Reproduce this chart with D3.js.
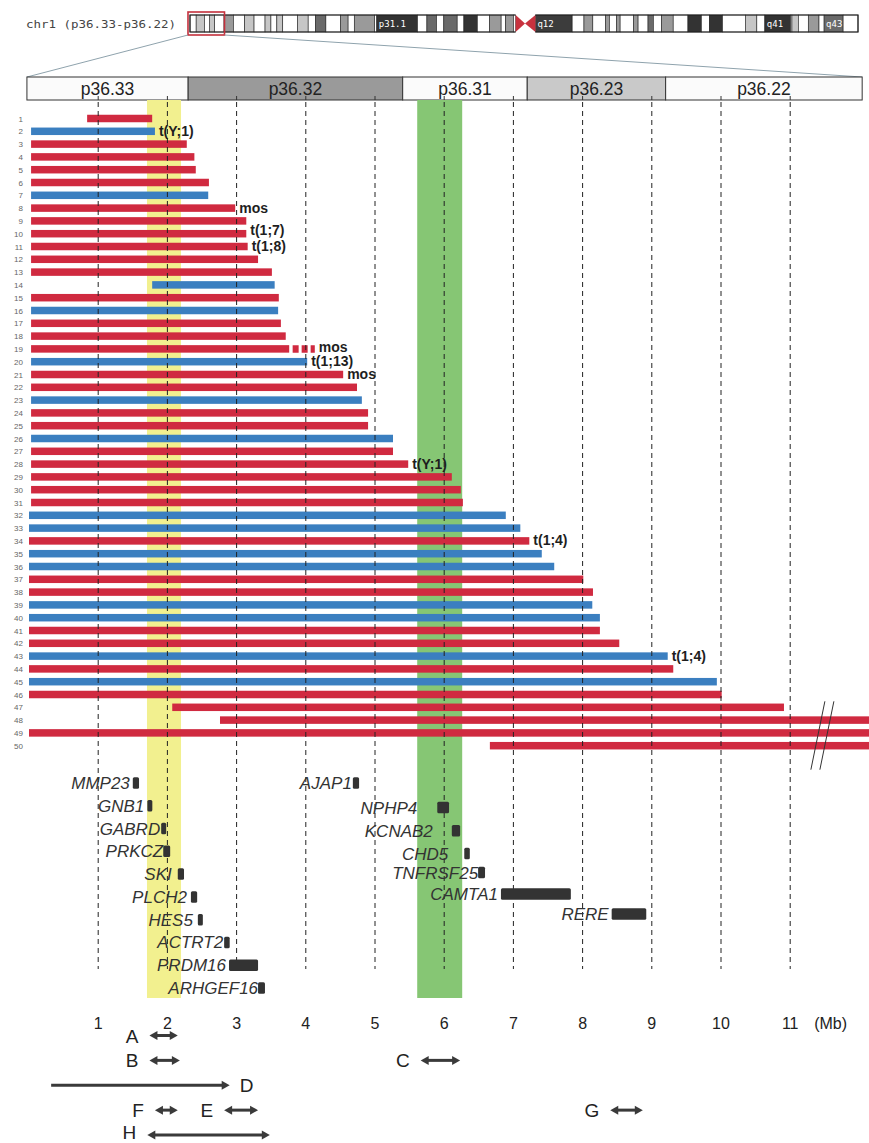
<!DOCTYPE html>
<html>
<head>
<meta charset="utf-8">
<script src="https://cdn.jsdelivr.net/npm/d3@7/dist/d3.min.js"></script>
<style>
  body { margin: 0; background: #fff; }
  svg { display: block; }
</style>
</head>
<body>
<svg id="chart" width="869" height="1143"></svg>
<script>
// ---- chromosome 1 ideogram (Mb, stain) ----
const ideoBands = [
  ["p36.33",0,2.3,"gneg"],["p36.32",2.3,5.4,"gpos25"],["p36.31",5.4,7.2,"gneg"],["p36.23",7.2,9.2,"gpos25"],
  ["p36.22",9.2,12.7,"gneg"],["p36.21",12.7,16.2,"gpos50"],["p36.13",16.2,20.4,"gneg"],["p36.12",20.4,23.9,"gpos25"],
  ["p36.11",23.9,28.0,"gneg"],["p35.3",28.0,30.2,"gpos25"],["p35.2",30.2,32.4,"gneg"],["p35.1",32.4,34.6,"gpos25"],
  ["p34.3",34.6,40.1,"gneg"],["p34.2",40.1,44.1,"gpos25"],["p34.1",44.1,46.8,"gneg"],["p33",46.8,50.7,"gpos75"],
  ["p32.3",50.7,56.1,"gneg"],["p32.2",56.1,59.0,"gpos50"],["p32.1",59.0,61.3,"gneg"],["p31.3",61.3,68.9,"gpos50"],
  ["p31.2",68.9,69.7,"gneg"],["p31.1",69.7,84.9,"gpos100"],["p22.3",84.9,88.4,"gneg"],["p22.2",88.4,92.0,"gpos75"],
  ["p22.1",92.0,94.7,"gneg"],["p21.3",94.7,99.7,"gpos75"],["p21.2",99.7,102.2,"gneg"],["p21.1",102.2,107.2,"gpos100"],
  ["p13.3",107.2,111.8,"gneg"],["p13.2",111.8,116.1,"gpos50"],["p13.1",116.1,117.8,"gneg"],["p12",117.8,120.7,"gpos50"],
  ["p11.2",120.7,121.5,"gneg"],["p11.1",121.5,125.0,"acen"],["q11",125.0,128.9,"acen"],["q12",128.9,142.6,"gvar"],
  ["q21.1",142.6,147.0,"gneg"],["q21.2",147.0,150.3,"gpos50"],["q21.3",150.3,155.0,"gneg"],["q22",155.0,156.5,"gpos50"],
  ["q23.1",156.5,159.1,"gneg"],["q23.2",159.1,160.5,"gpos50"],["q23.3",160.5,165.5,"gneg"],["q24.1",165.5,167.2,"gpos50"],
  ["q24.2",167.2,170.9,"gneg"],["q24.3",170.9,172.9,"gpos75"],["q25.1",172.9,176.0,"gneg"],["q25.2",176.0,180.3,"gpos50"],
  ["q25.3",180.3,185.8,"gneg"],["q31.1",185.8,190.8,"gpos100"],["q31.2",190.8,193.8,"gneg"],["q31.3",193.8,198.7,"gpos100"],
  ["q32.1",198.7,207.2,"gneg"],["q32.2",207.2,211.5,"gpos25"],["q32.3",211.5,214.5,"gneg"],["q41",214.5,224.1,"gpos100"],
  ["q42.11",224.1,224.6,"gneg"],["q42.12",224.6,227.0,"gpos25"],["q42.13",227.0,230.7,"gneg"],["q42.2",230.7,234.7,"gpos50"],
  ["q42.3",234.7,236.6,"gneg"],["q43",236.6,243.7,"gpos75"],["q44",243.7,249.25,"gneg"]
];
const ideoLabelled = ["p31.1","q12","q41","q43"];
const chrLength = 249.25;
const regionTitle = "chr1 (p36.33-p36.22)";
const regionSpan = [0, 12.5];

// ---- zoomed sub-bands (Mb) ----
const subBandNames  = ["p36.33","p36.32","p36.31","p36.23","p36.22"];
const subBandStarts = [0, 2.3, 5.4, 7.2, 9.2];
const subBandEnds   = [2.3, 5.4, 7.2, 9.2, 12.7];
const subBandStains = ["gneg","gpos50","gneg","gpos25","gneg"];
const viewRange = [-0.03, 12.04];

// ---- shaded intervals (Mb) ----
const shadeStarts = [1.705, 5.61];
const shadeEnds   = [2.197, 6.26];
const shadeColors = ["#f2f08f", "#86c674"];

// ---- deletions, one per patient (Mb) ----
const rowIds = d3.range(1, 51);
const rowStart = [
  0.84,0.03,0.03,0.03,0.03,0.03,0.03,0.03,0.03,0.03,
  0.03,0.03,0.03,1.78,0.03,0.03,0.03,0.03,0.03,0.03,
  0.03,0.03,0.03,0.03,0.03,0.03,0.03,0.03,0.03,0.03,
  0.03,0.0,0.0,0.0,0.0,0.0,0.0,0.0,0.0,0.0,
  0.0,0.0,0.0,0.0,0.0,0.0,2.07,2.76,0.0,6.66
];
const rowEnd = [
  1.78,1.82,2.28,2.39,2.41,2.60,2.59,2.98,3.14,3.14,
  3.16,3.31,3.51,3.55,3.61,3.60,3.64,3.71,3.76,4.02,
  4.54,4.74,4.81,4.90,4.90,5.26,5.26,5.48,6.11,6.24,
  6.27,6.89,7.10,7.23,7.41,7.59,8.01,8.15,8.14,8.25,
  8.25,8.53,9.23,9.31,9.94,10.01,10.91,12.6,12.6,12.6
];
// 0 = red series, 1 = blue series
const rowGroup = [
  0,1,0,0,0,0,1,0,0,0,
  0,0,0,1,0,1,0,0,0,1,
  0,0,1,0,0,1,0,0,0,0,
  0,1,1,0,1,1,0,0,1,1,
  0,0,1,0,1,0,0,0,0,0
];
const noteRows  = [2, 8, 10, 11, 19, 20, 21, 28, 34, 43];
const noteTexts = ["t(Y;1)","mos","t(1;7)","t(1;8)","mos","t(1;13)","mos","t(Y;1)","t(1;4)","t(1;4)"];
// partial (mosaic) extension drawn dotted
const mosaicRow = 19, mosaicFrom = 3.81, mosaicTo = 4.13;
const breakAt = 11.4;

// ---- genes (Mb) ----
const geneNames  = ["MMP23","GNB1","GABRD","PRKCZ","SKI","PLCH2","HES5","ACTRT2","PRDM16","ARHGEF16",
                    "AJAP1","NPHP4","KCNAB2","CHD5","TNFRSF25","CAMTA1","RERE"];
const geneStarts = [1.50,1.71,1.91,1.94,2.15,2.34,2.44,2.82,2.89,3.31, 4.68,5.90,6.11,6.29,6.49,6.82,8.42];
const geneEnds   = [1.59,1.78,1.98,2.04,2.24,2.43,2.50,2.90,3.31,3.41, 4.77,6.07,6.23,6.37,6.59,7.83,8.92];
const geneLanes  = [0,1,2,3,4,5,6,7,8,9, 0,1.08,2.1,3.1,3.93,4.87,5.75];

// ---- axis ticks ----
const tickValues = [1,2,3,4,5,6,7,8,9,10,11];
const axisUnit = "(Mb)";

// ---- critical regions (Mb) ----
const regionNames  = ["A","B","C","D","E","F","G","H"];
const regionStarts = [1.74,1.74,5.66,0.32,2.82,1.82,8.40,1.71];
const regionEnds   = [2.15,2.18,6.23,2.90,3.31,2.15,8.87,3.48];
const regionLanes  = [0,1,1,2,3,3,3,4];
const regionOpen   = [false,false,false,true,false,false,false,false]; // open-ended to the left

// ================= drawing =================
const svg = d3.select("#chart");
const FONT = "'Liberation Sans', Arial, sans-serif";

const x = d3.scaleLinear().domain([0, 12]).range([29, 859.4]);
const yRow = d3.scalePoint().domain(rowIds).range([118.5, 745.7]);
const yGene = d3.scaleLinear().domain([0, 9]).range([783, 988]);
const yReg = d3.scaleLinear().domain([0, 4]).range([1035.5, 1135]);
const ideoX = d3.scaleLinear().domain([0, chrLength]).range([190, 858]);
const stainFill = d3.scaleOrdinal()
  .domain(["gneg","gpos25","gpos50","gpos75","gpos100","gvar","acen"])
  .range(["#ffffff","#c6c6c6","#9a9a9a","#6a6a6a","#333333","#3c3c3c","#c8323e"]);
const groupColor = d3.scaleOrdinal().domain([0,1]).range(["#d02a40","#3b7fc0"]);

// label spacing (px) between a gene label and its box; crowded ones are pushed left
const labelGap = {NPHP4: 20, KCNAB2: 19, CHD5: 16, TNFRSF25: 0, AJAP1: 1, GABRD: 1, PRKCZ: 0,
                  SKI: 6, PLCH2: 4, HES5: 5, ACTRT2: 1, ARHGEF16: 0};
// vertical nudge (px) for annotations that sit on adjacent rows
const noteLift = {10: -3.5, 19: -1.5};

// ---- ideogram ----
const iy = 15, ih = 17;
svg.append("text").attr("x", 26).attr("y", iy + 12.5)
  .attr("font-family", "'DejaVu Sans Mono', monospace").attr("font-size", 10.5)
  .attr("fill", "#444").attr("textLength", 150).attr("lengthAdjust", "spacingAndGlyphs")
  .text(regionTitle);

const ideo = svg.append("g");
const bandRows = ideoBands.map(b => ({name: b[0], s: b[1], e: b[2], stain: b[3]}));
ideo.selectAll("rect.band").data(bandRows.filter(d => d.stain !== "acen")).join("rect")
  .attr("x", d => ideoX(d.s)).attr("y", iy)
  .attr("width", d => ideoX(d.e) - ideoX(d.s)).attr("height", ih)
  .attr("fill", d => stainFill(d.stain))
  .attr("stroke", "#222").attr("stroke-width", 0.6);
// centromere
const pAcen = bandRows.find(d => d.name === "p11.1"), qAcen = bandRows.find(d => d.name === "q11");
const cx = ideoX(pAcen.e);
ideo.append("path")
  .attr("d", `M${ideoX(pAcen.s)},${iy}L${cx},${iy + ih/2}L${ideoX(pAcen.s)},${iy + ih}Z`)
  .attr("fill", stainFill("acen"));
ideo.append("path")
  .attr("d", `M${ideoX(qAcen.e)},${iy}L${cx},${iy + ih/2}L${ideoX(qAcen.e)},${iy + ih}Z`)
  .attr("fill", stainFill("acen"));
// arm outlines
ideo.append("path").attr("fill", "none").attr("stroke", "#222").attr("stroke-width", 1.2)
  .attr("d", `M${ideoX(pAcen.s)},${iy}L${ideoX(0)},${iy}L${ideoX(0)},${iy+ih}L${ideoX(pAcen.s)},${iy+ih}`);
ideo.append("path").attr("fill", "none").attr("stroke", "#222").attr("stroke-width", 1.2)
  .attr("d", `M${ideoX(qAcen.e)},${iy}L${ideoX(chrLength)},${iy}L${ideoX(chrLength)},${iy+ih}L${ideoX(qAcen.e)},${iy+ih}`);
ideo.selectAll("text.bl").data(bandRows.filter(d => ideoLabelled.includes(d.name))).join("text")
  .attr("x", d => ideoX(d.s) + 2).attr("y", iy + ih/2 + 3.5)
  .attr("font-family", "'DejaVu Sans Mono', monospace").attr("font-size", 9)
  .attr("fill", "#fff").text(d => d.name);

// selection box and projection lines
const bx0 = ideoX(regionSpan[0]) - 2, bx1 = ideoX(regionSpan[1]) + 1;
svg.append("rect").attr("x", bx0).attr("y", iy - 3).attr("width", bx1 - bx0).attr("height", ih + 6)
  .attr("fill", "none").attr("stroke", "#c4303c").attr("stroke-width", 1.6);
const hy = 77, hh = 23;
svg.append("line").attr("x1", bx0).attr("y1", iy + ih + 3).attr("x2", x(viewRange[0])).attr("y2", hy)
  .attr("stroke", "#8fa3ad").attr("stroke-width", 1);
svg.append("line").attr("x1", bx1).attr("y1", iy + ih + 3).attr("x2", x(viewRange[1])).attr("y2", hy)
  .attr("stroke", "#8fa3ad").attr("stroke-width", 1);

// ---- zoomed band header ----
const subBands = subBandNames.map((n, i) => ({
  name: n,
  s: Math.max(subBandStarts[i] === 0 ? viewRange[0] : subBandStarts[i], viewRange[0]),
  e: Math.min(subBandEnds[i], viewRange[1]),
  stain: subBandStains[i]
}));
const hdrFill = d3.scaleOrdinal().domain(["gneg","gpos25","gpos50"]).range(["#fbfbfb","#c9c9c9","#9a9a9a"]);
const hdr = svg.append("g");
hdr.selectAll("rect").data(subBands).join("rect")
  .attr("x", d => x(d.s)).attr("y", hy).attr("width", d => x(d.e) - x(d.s)).attr("height", hh)
  .attr("fill", d => hdrFill(d.stain)).attr("stroke", "#333").attr("stroke-width", 1);
hdr.selectAll("text").data(subBands).join("text")
  .attr("x", d => (x(d.s) + x(d.e)) / 2).attr("y", hy + 17.5)
  .attr("text-anchor", "middle").attr("font-family", FONT).attr("font-size", 17.5)
  .attr("fill", "#222").text(d => d.name);
hdr.selectAll("line").data(tickValues).join("line")
  .attr("x1", d => x(d)).attr("x2", d => x(d)).attr("y1", hy + hh - 4).attr("y2", hy + hh)
  .attr("stroke", "#333");

// ---- shaded regions ----
const shadeTop = hy + hh, shadeBottom = 998;
svg.append("g").selectAll("rect").data(shadeStarts.map((s, i) => ({s, e: shadeEnds[i], c: shadeColors[i]})))
  .join("rect")
  .attr("x", d => x(d.s)).attr("width", d => x(d.e) - x(d.s))
  .attr("y", shadeTop).attr("height", shadeBottom - shadeTop)
  .attr("fill", d => d.c);

// ---- deletion bars ----
const rows = rowIds.map((id, i) => ({id, s: rowStart[i], e: rowEnd[i], g: rowGroup[i]}));
const barH = 7.5;
svg.append("g").selectAll("rect").data(rows).join("rect")
  .attr("x", d => x(d.s)).attr("width", d => x(d.e) - x(d.s))
  .attr("y", d => yRow(d.id) - barH / 2).attr("height", barH)
  .attr("fill", d => groupColor(d.g));
svg.append("line")
  .attr("x1", x(mosaicFrom)).attr("x2", x(mosaicTo))
  .attr("y1", yRow(mosaicRow)).attr("y2", yRow(mosaicRow))
  .attr("stroke", groupColor(rowGroup[mosaicRow - 1])).attr("stroke-width", barH)
  .attr("stroke-dasharray", "6,3");

// row numbers
svg.append("g").selectAll("text").data(rows).join("text")
  .attr("x", 23).attr("y", d => yRow(d.id) + 3)
  .attr("text-anchor", "end").attr("font-family", FONT).attr("font-size", 8)
  .attr("fill", "#666").text(d => d.id);

// annotations
svg.append("g").selectAll("text").data(noteRows.map((r, i) => ({r, t: noteTexts[i]}))).join("text")
  .attr("x", d => x(d.r === mosaicRow ? mosaicTo : rowEnd[d.r - 1]) + 4)
  .attr("y", d => yRow(d.r) + 4.5 + (noteLift[d.r] || 0))
  .attr("font-family", FONT).attr("font-size", 14).attr("font-weight", "bold")
  .attr("fill", "#1e1e1e").text(d => d.t);

// ---- dashed grid ----
svg.append("g").selectAll("line").data(tickValues).join("line")
  .attr("x1", d => x(d)).attr("x2", d => x(d))
  .attr("y1", hy + hh + 2).attr("y2", 969)
  .attr("stroke", "#222").attr("stroke-width", 1).attr("stroke-dasharray", "5,4");

// break marks across the long deletions
const brTop = yRow(47) - 6, brBot = yRow(50) + 24, slant = 14;
[0, 9].forEach(off => {
  svg.append("line")
    .attr("x1", x(breakAt) + off + slant / 2).attr("y1", brTop)
    .attr("x2", x(breakAt) + off - slant / 2).attr("y2", brBot)
    .attr("stroke", "#333").attr("stroke-width", 1);
});

// ---- genes ----
const genes = geneNames.map((n, i) => ({n, s: geneStarts[i], e: geneEnds[i], lane: geneLanes[i]}));
const geneH = 11.5;
const gg = svg.append("g");
gg.selectAll("rect").data(genes).join("rect")
  .attr("x", d => x(d.s)).attr("width", d => Math.max(5, x(d.e) - x(d.s)))
  .attr("y", d => yGene(d.lane) - geneH / 2).attr("height", geneH)
  .attr("rx", 1.5).attr("fill", "#333");
gg.selectAll("text").data(genes).join("text")
  .attr("x", d => x(d.s) - (d.n in labelGap ? labelGap[d.n] : 3)).attr("y", d => yGene(d.lane) + 6)
  .attr("text-anchor", "end").attr("font-family", FONT).attr("font-style", "italic")
  .attr("font-size", 17).attr("fill", "#333").text(d => d.n);

// ---- axis labels ----
const ax = svg.append("g");
ax.selectAll("text").data(tickValues).join("text")
  .attr("x", d => x(d)).attr("y", 1029)
  .attr("text-anchor", "middle").attr("font-family", FONT).attr("font-size", 16)
  .attr("fill", "#222").text(d => d);
ax.append("text").attr("x", x(11) + 24).attr("y", 1029)
  .attr("font-family", FONT).attr("font-size", 16).attr("fill", "#222").text(axisUnit);

// ---- critical regions ----
const regs = regionNames.map((n, i) => ({n, s: regionStarts[i], e: regionEnds[i], lane: regionLanes[i], open: regionOpen[i]}));
const arrowCol = "#3a3a3a", headL = 8, headW = 4.5;
const rg = svg.append("g");
regs.forEach(d => {
  const y = yReg(d.lane), x0 = x(d.s), x1 = x(d.e);
  rg.append("line")
    .attr("x1", d.open ? x0 : x0 + headL - 1).attr("x2", x1 - headL + 1)
    .attr("y1", y).attr("y2", y).attr("stroke", arrowCol).attr("stroke-width", 3);
  rg.append("path").attr("fill", arrowCol)
    .attr("d", `M${x1},${y}L${x1 - headL},${y - headW}L${x1 - headL},${y + headW}Z`);
  if (!d.open) {
    rg.append("path").attr("fill", arrowCol)
      .attr("d", `M${x0},${y}L${x0 + headL},${y - headW}L${x0 + headL},${y + headW}Z`);
  }
  rg.append("text")
    .attr("x", d.open ? x1 + 10 : x0 - 11).attr("y", Math.min(y + 7, 1139))
    .attr("text-anchor", d.open ? "start" : "end")
    .attr("font-family", FONT).attr("font-size", 19).attr("fill", "#222").text(d.n);
});
</script>
</body>
</html>
